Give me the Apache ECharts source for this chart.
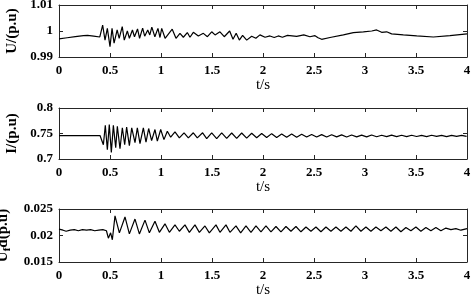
<!DOCTYPE html>
<html><head><meta charset="utf-8">
<script src="https://cdn.jsdelivr.net/npm/echarts@6/dist/echarts.min.js"></script>
<style>html,body{margin:0;padding:0;background:#fff}#c{width:472px;height:299px}</style>
</head><body><div id="c"></div>
<script>
const xTicks = [0,0.5,1,1.5,2,2.5,3,3.5,4];
const uT = [0.00,0.08,0.16,0.24,0.28,0.34,0.40,0.415,0.428,0.451,0.474,0.500,0.520,0.540,0.570,0.590,0.620,0.640,0.670,0.690,0.720,0.740,0.770,0.790,0.820,0.840,0.870,0.890,0.910,0.940,0.970,0.990,1.007,1.040,1.110,1.147,1.186,1.219,1.258,1.284,1.317,1.366,1.415,1.455,1.497,1.530,1.578,1.620,1.673,1.706,1.737,1.768,1.800,1.840,1.889,1.930,1.970,2.020,2.068,2.110,2.150,2.190,2.240,2.330,2.400,2.460,2.510,2.540,2.575,2.657,2.788,2.886,2.984,3.066,3.114,3.163,3.212,3.261,3.376,3.507,3.670,3.833,4.000];
const uV = [0.9970,0.9974,0.9978,0.9982,0.9983,0.9980,0.9977,0.9979,1.0023,0.9965,1.0010,0.9940,1.0010,0.9953,1.0004,0.9972,1.0017,0.9965,1.0000,0.9972,1.0004,0.9978,1.0008,0.9972,1.0011,0.9980,1.0004,0.9985,1.0015,0.9978,1.0010,0.9975,1.0010,0.9972,1.0007,0.9972,0.9991,0.9976,0.9994,0.9976,0.9995,0.9981,0.9991,0.9978,0.9997,0.9985,0.9997,0.9978,1.0000,0.9968,0.9991,0.9965,0.9983,0.9965,0.9980,0.9972,0.9985,0.9976,0.9981,0.9975,0.9981,0.9976,0.9983,0.9979,0.9985,0.9978,0.9982,0.9974,0.9968,0.9975,0.9985,0.9994,0.9997,1.0000,1.0004,0.9995,0.9997,0.9989,0.9985,0.9981,0.9977,0.9982,0.9989];
const iT = [0,0.402,0.418,0.435,0.454,0.474,0.493,0.513,0.533,0.556,0.572,0.598,0.621,0.644,0.663,0.690,0.713,0.745,0.768,0.794,0.827,0.853,0.879,0.908,0.941,0.964,0.997,1.029,1.062,1.095,1.137,1.180,1.226,1.268,1.317,1.356,1.408,1.448,1.497,1.546,1.595,1.644,1.693,1.742,1.791,1.840,1.889,1.938,1.987,2.036,2.085,2.134,2.183,2.232,2.281,2.330,2.379,2.428,2.477,2.526,2.575,2.624,2.673,2.722,2.771,2.820,2.869,2.918,2.967,3.016,3.065,3.114,3.163,3.212,3.261,3.310,3.359,3.408,3.457,3.506,3.555,3.604,3.653,3.702,3.751,3.800,3.849,3.898,3.947,3.996];
const iV = [0.746,0.746,0.746,0.728,0.7663,0.718,0.7676,0.713,0.766,0.722,0.7643,0.720,0.7612,0.728,0.7624,0.726,0.761,0.732,0.761,0.730,0.761,0.733,0.7598,0.736,0.7578,0.735,0.7578,0.738,0.7545,0.7428,0.7533,0.7415,0.7514,0.7415,0.7514,0.7415,0.7514,0.740,0.7514,0.740,0.7512,0.7405,0.751,0.7405,0.751,0.741,0.7505,0.7418,0.7500,0.7420,0.7497,0.7423,0.7492,0.7425,0.7490,0.7428,0.7486,0.7430,0.7482,0.7432,0.7478,0.7430,0.7475,0.7434,0.7472,0.7432,0.7470,0.7435,0.7468,0.7433,0.7470,0.7436,0.7466,0.7438,0.7468,0.7440,0.7465,0.7438,0.7466,0.7441,0.7464,0.7440,0.7465,0.7442,0.7463,0.7440,0.7464,0.7442,0.7462,0.7445];
const fT = [0.000,0.040,0.070,0.110,0.150,0.190,0.230,0.270,0.310,0.350,0.390,0.430,0.465,0.484,0.506,0.523,0.549,0.592,0.647,0.690,0.745,0.788,0.843,0.886,0.941,0.984,1.039,1.082,1.137,1.180,1.235,1.278,1.333,1.376,1.431,1.474,1.539,1.578,1.637,1.676,1.735,1.781,1.833,1.882,1.931,1.980,2.029,2.078,2.127,2.176,2.225,2.274,2.323,2.372,2.421,2.470,2.519,2.568,2.617,2.666,2.715,2.764,2.813,2.862,2.911,2.960,3.009,3.058,3.107,3.156,3.205,3.254,3.303,3.352,3.401,3.450,3.499,3.548,3.597,3.646,3.695,3.744,3.793,3.842,3.891,3.940,4.000];
const fV = [0.0212,0.0210,0.0208,0.0210,0.0211,0.0209,0.0211,0.0210,0.0211,0.0209,0.0210,0.0211,0.0209,0.0195,0.0205,0.0192,0.0237,0.0205,0.0235,0.0203,0.0231,0.0203,0.0229,0.0205,0.0227,0.0206,0.0222,0.0206,0.0220,0.0208,0.0220,0.0206,0.0220,0.0206,0.0218,0.0205,0.0220,0.0206,0.0220,0.0206,0.0218,0.0205,0.0218,0.0206,0.0218,0.0207,0.0218,0.0207,0.0217,0.0207,0.0217,0.0208,0.0217,0.0207,0.0216,0.0208,0.0216,0.0207,0.0216,0.0208,0.0216,0.0208,0.0216,0.0208,0.0218,0.0208,0.0216,0.0208,0.0216,0.0209,0.0216,0.0208,0.0216,0.0207,0.0215,0.0209,0.0216,0.0208,0.0215,0.0209,0.0215,0.0209,0.0214,0.0211,0.0213,0.0210,0.0213];
const yRanges = [[0.99,1.01,0.01],[0.7,0.8,0.05],[0.015,0.025,0.005]];
const yNames = ['U/(p.u)','I/(p.u)','{b|U}{s|f}{b|d(p.u)}'];

const chart = echarts.init(document.getElementById('c'), null, {renderer:'canvas'});
const lineC = '#262626';
const labelFont = {fontFamily:'Liberation Serif', fontWeight:'bold', fontSize:13, color:'#000'};
const gridBase = {containLabel:false, outerBoundsMode:'none'};
const grids = [
  Object.assign({left:59,top:5,width:408,height:52}, gridBase),
  Object.assign({left:59,top:108,width:408,height:51}, gridBase),
  Object.assign({left:59,top:209,width:408,height:53}, gridBase)];
const xAxis = [], yAxis = [], series = [];
const datas = [[uT,uV],[iT,iV],[fT,fV]];
grids.forEach((g,k)=>{
  const base = {type:'value', gridIndex:k, min:0, max:4, interval:0.5,
    axisLine:{show:true,onZero:false,lineStyle:{color:lineC,width:1}},
    axisTick:{show:true,inside:true,length:4,lineStyle:{color:lineC}},
    splitLine:{show:false}};
  xAxis.push(Object.assign({}, base, {position:'bottom',
    axisLabel:Object.assign({margin:7, formatter:v=>String(v)}, labelFont),
    name:'t/s', nameLocation:'middle', nameGap:21,
    nameTextStyle:{fontFamily:'Liberation Serif', fontSize:15, color:'#000'}}));
  xAxis.push(Object.assign({}, base, {position:'top', axisLabel:{show:false}}));
  const r = yRanges[k];
  const ybase = {type:'value', gridIndex:k, min:r[0], max:r[1], interval:r[2],
    axisLine:{show:true,onZero:false,lineStyle:{color:lineC,width:1}},
    axisTick:{show:true,inside:true,length:4,lineStyle:{color:lineC}},
    splitLine:{show:false}};
  yAxis.push(Object.assign({}, ybase, {position:'left',
    axisLabel:Object.assign({margin:6, formatter:v=>String(+v.toFixed(4))}, labelFont),
    name:yNames[k], nameLocation:'middle', nameGap:k===2 ? 37 : 39, nameRotate:90,
    nameTextStyle:{fontFamily:'Liberation Serif', fontWeight:'bold', fontSize:15, color:'#000',
      rich:{b:{fontFamily:'Liberation Serif', fontWeight:'bold', fontSize:15, lineHeight:15, color:'#000', verticalAlign:'top'},
            s:{fontFamily:'Liberation Serif', fontWeight:'bold', fontSize:11, lineHeight:11, color:'#000', verticalAlign:'top', padding:[6,0,0,0]}}}}));
  yAxis.push(Object.assign({}, ybase, {position:'right', axisLabel:{show:false}}));
  const d = datas[k][0].map((t,i)=>[t, datas[k][1][i]]);
  series.push({type:'line', xAxisIndex:2*k, yAxisIndex:2*k, data:d, showSymbol:false,
    lineStyle:{color:'#000', width:1.2}, animation:false, clip:true});
});
chart.setOption({animation:false, backgroundColor:'#fff', grid:grids, xAxis, yAxis, series});
</script></body></html>
